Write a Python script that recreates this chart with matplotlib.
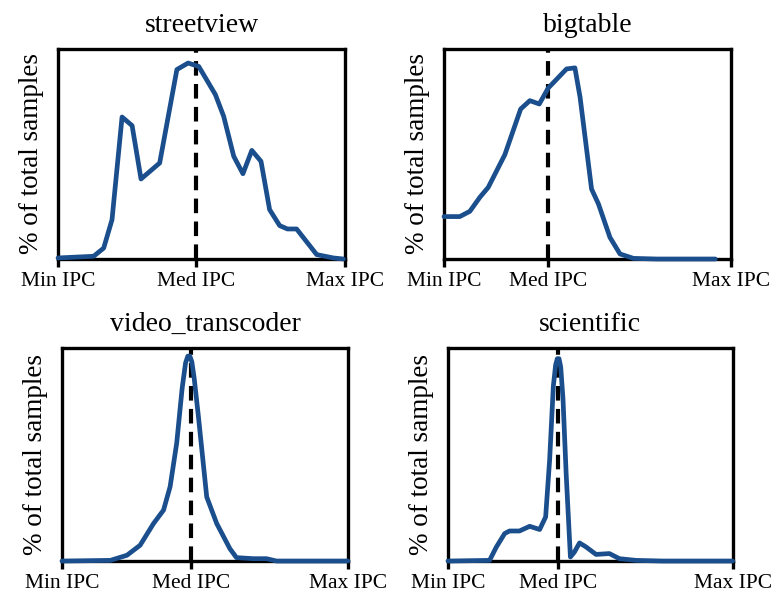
import numpy as np
import matplotlib
matplotlib.use("Agg")
from matplotlib import pyplot as plt

# positions along the IPC axis (0 = min IPC, 1 = max IPC), heights as fraction of axis
streetview_x = [0.0, 0.124, 0.159, 0.188, 0.223, 0.258, 0.289, 0.354, 0.414, 0.453, 0.490,
                0.548, 0.577, 0.612, 0.644, 0.675, 0.707, 0.737, 0.772, 0.799, 0.831,
                0.901, 0.959, 0.994]
streetview_y = [0.005, 0.013, 0.052, 0.187, 0.676, 0.635, 0.381, 0.457, 0.902, 0.933, 0.917,
                0.783, 0.679, 0.489, 0.406, 0.517, 0.465, 0.235, 0.159, 0.143, 0.143,
                0.021, 0.005, 0.0]
streetview_med = 0.48

bigtable_x = [0.0, 0.055, 0.090, 0.125, 0.154, 0.212, 0.267, 0.299, 0.332, 0.363, 0.427,
              0.456, 0.474, 0.514, 0.538, 0.578, 0.613, 0.660, 0.741, 0.945]
bigtable_y = [0.202, 0.202, 0.227, 0.294, 0.341, 0.497, 0.714, 0.754, 0.738, 0.814, 0.905,
              0.910, 0.770, 0.333, 0.262, 0.103, 0.024, 0.003, 0.0, 0.0]
bigtable_med = 0.362

video_x = [0.0, 0.169, 0.227, 0.273, 0.320, 0.355, 0.378, 0.401, 0.420, 0.432, 0.440, 0.447,
           0.454, 0.462, 0.477, 0.506, 0.541, 0.587, 0.610, 0.669, 0.715, 0.750, 1.0]
video_y = [0.0, 0.003, 0.027, 0.074, 0.176, 0.239, 0.349, 0.553, 0.810, 0.930, 0.962, 0.962,
           0.935, 0.860, 0.678, 0.301, 0.176, 0.058, 0.016, 0.011, 0.011, 0.0, 0.0]
video_med = 0.45

scientific_x = [0.0, 0.146, 0.170, 0.199, 0.216, 0.251, 0.287, 0.322, 0.343, 0.357, 0.370,
                0.378, 0.384, 0.390, 0.396, 0.404, 0.415, 0.430, 0.444, 0.462, 0.485,
                0.520, 0.567, 0.602, 0.661, 0.754, 1.0]
scientific_y = [0.0, 0.003, 0.066, 0.129, 0.141, 0.141, 0.163, 0.148, 0.207, 0.474, 0.820,
                0.920, 0.950, 0.950, 0.910, 0.760, 0.411, 0.019, 0.042, 0.085, 0.066,
                0.031, 0.035, 0.011, 0.003, 0.0, 0.0]
scientific_med = 0.386

tick_labels = ["Min IPC", "Med IPC", "Max IPC"]

plt.rcParams['font.family'] = ['Liberation Serif', 'DejaVu Serif']

fig = plt.figure(figsize=(7.78, 5.95), dpi=100)

panels = [
    ("streetview", streetview_x, streetview_y, streetview_med, [0.0746, 0.5647, 0.369, 0.353]),
    ("bigtable", bigtable_x, bigtable_y, bigtable_med, [0.5707, 0.5647, 0.369, 0.353]),
    ("video_transcoder", video_x, video_y, video_med, [0.0797, 0.0571, 0.3676, 0.358]),
    ("scientific", scientific_x, scientific_y, scientific_med, [0.5758, 0.0571, 0.366, 0.358]),
]

for title, xs, ys, med, pos in panels:
    ax = fig.add_axes(pos)
    ax.plot(xs, ys, color='#1a4e8c', lw=3.4, zorder=5, clip_on=False,
            solid_joinstyle='round', solid_capstyle='round')
    ax.axvline(med, color='black', lw=3, linestyle=(0, (3.5, 2)), zorder=4)
    ax.set_xlim(0, 1)
    ax.set_ylim(0, 1)
    ax.set_xticks([0, med, 1])
    ax.set_xticklabels(tick_labels, fontsize=15.5)
    ax.set_yticks([])
    ax.tick_params(axis='x', direction='out', length=6, width=2.4, pad=3)
    for sp in ax.spines.values():
        sp.set_linewidth(2.4)
    ax.set_ylabel("% of total samples", fontsize=19.5, labelpad=10)
    ax.set_title(title, fontsize=20, pad=12)

plt.savefig("out.png", dpi=100)
